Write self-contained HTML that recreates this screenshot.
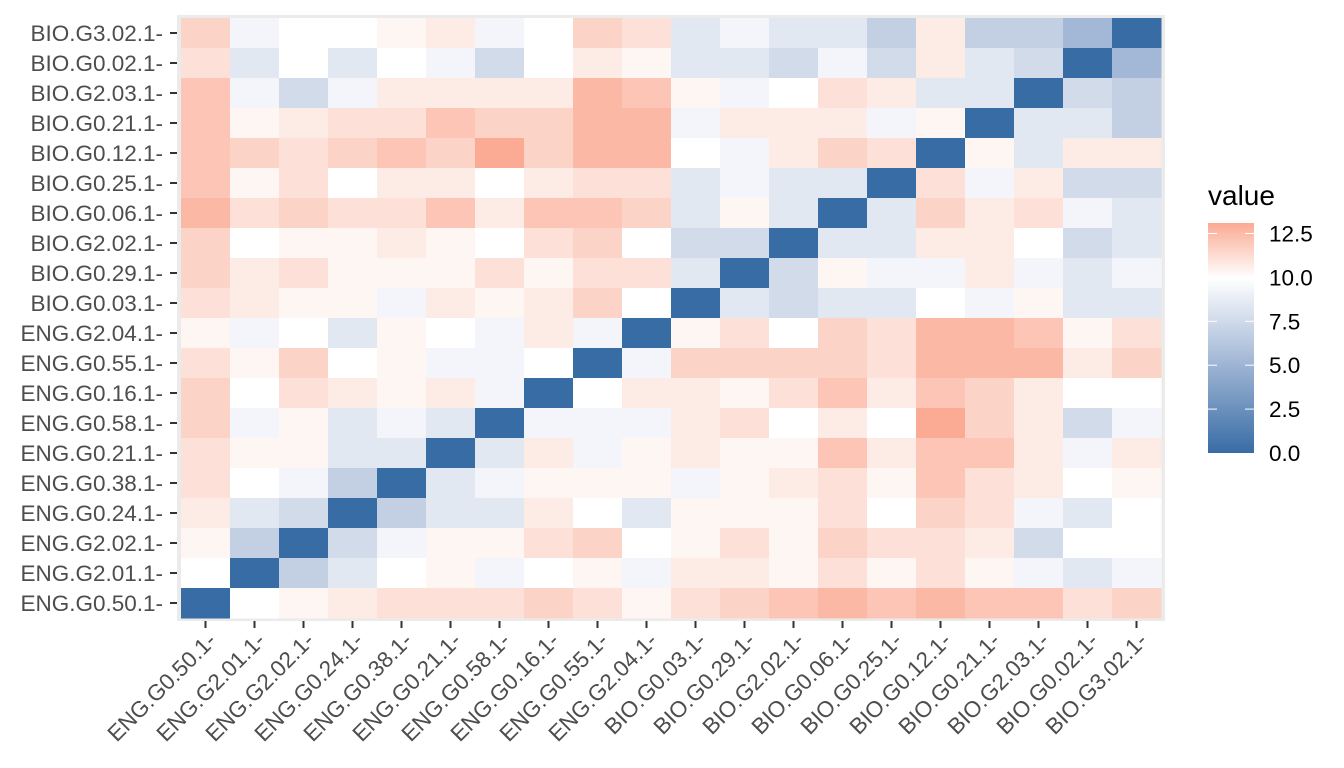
<!DOCTYPE html>
<html><head><meta charset="utf-8"><style>
html,body{margin:0;padding:0;background:#fff;}
svg{display:block;}
</style></head><body>
<svg id="s" width="1344" height="768" xmlns="http://www.w3.org/2000/svg" font-family="Liberation Sans, Arial, sans-serif">
<defs>
<linearGradient id="lg" x1="0" y1="1" x2="0" y2="0">
<stop offset="0" stop-color="#386CA5"/>
<stop offset="0.40" stop-color="#A3B8D6"/>
<stop offset="0.76" stop-color="#FFFFFF"/>
<stop offset="1" stop-color="#FBAA93"/>
</linearGradient>
</defs>
<rect x="177" y="15" width="988" height="606" fill="#EBEBEB"/>
<g id="cells"></g>
<g id="lab"></g>
<text x="1208" y="205" font-size="28" fill="#000">value</text>
<rect x="1208" y="223" width="46" height="230" fill="url(#lg)"/>
<g id="leg"></g>
</svg>
<script>
var P={a:"#FEF6F3",b:"#FDEBE5",c:"#FDE0D8",d:"#FCD3C7",e:"#FCC5B5",f:"#FBB8A4",g:"#FBAB94",
p:"#F3F5FA",q:"#E2E8F1",s:"#D1DBEA",t:"#C3D0E3",u:"#A3B8D6",D:"#386CA5",w:"#FFFFFF"};
var rows=[
"dpwwabpwdcqpqqtbttuD",
"cqwqwpswbaqqspsbqsDu",
"epspbbbbfeapwcbqqDst",
"eabcceddffpbbbpaDqqt",
"edcdedgdffwpbdcDaqbb",
"eacwbbwbccqpqqDcpbss",
"fcdccebeedqaqDqdbcpq",
"dwaabawcdwssDqqbbwsq",
"dbcaaacaccqDsappbpqp",
"cbaapbabdwDqsqqwpaqq",
"apwqawpbpDacwdcffeac",
"cadwappwDpddddcfffbd",
"dwcbabpDwbbacebedbww",
"dpaqpqDpppbcwbwgdbsp",
"caaqqDqbpabaaebeebpb",
"cwptDqpaaapabcaecbwa",
"bqsDtqqbwqaaacwdcpqw",
"atDspaacdwacadccbsww",
"wDtqwapwapbbacacapqp",
"Dwabcccdcacdefefeecd"];
var ylab=["BIO.G3.02.1","BIO.G0.02.1","BIO.G2.03.1","BIO.G0.21.1","BIO.G0.12.1","BIO.G0.25.1","BIO.G0.06.1","BIO.G2.02.1","BIO.G0.29.1","BIO.G0.03.1","ENG.G2.04.1","ENG.G0.55.1","ENG.G0.16.1","ENG.G0.58.1","ENG.G0.21.1","ENG.G0.38.1","ENG.G0.24.1","ENG.G2.02.1","ENG.G2.01.1","ENG.G0.50.1"];
var xlab=ylab.slice().reverse();
var h="";
for(var r=0;r<20;r++)for(var c=0;c<20;c++){
h+='<rect x="'+(181+49*c)+'" y="'+(18+30*r)+'" width="49.5" height="30.5" fill="'+P[rows[r][c]]+'"/>';}
document.getElementById("cells").innerHTML=h;
var l="";
for(var r=0;r<20;r++){var y=33+30*r;
l+='<text x="163" y="'+(y+8)+'" font-size="22.5" fill="#4D4D4D" text-anchor="end">'+ylab[r]+'-</text>';
l+='<line x1="170" x2="177" y1="'+y+'" y2="'+y+'" stroke="#333" stroke-width="2"/>';}
for(var c=0;c<20;c++){var x=205.5+49*c;
l+='<line x1="'+x+'" x2="'+x+'" y1="621" y2="628" stroke="#333" stroke-width="2"/>';
l+='<text transform="translate('+(x+12)+',642) rotate(-45)" font-size="22.5" fill="#4D4D4D" text-anchor="end">'+xlab[c]+'-</text>';}
document.getElementById("lab").innerHTML=l;
var g="",labs=["0.0","2.5","5.0","7.5","10.0","12.5"];
for(var i=0;i<6;i++){var y=453-43.9*i;
if(i>0){g+='<line x1="1208" x2="1217" y1="'+y+'" y2="'+y+'" stroke="#fff" stroke-width="1"/><line x1="1245" x2="1254" y1="'+y+'" y2="'+y+'" stroke="#fff" stroke-width="1"/>';}
g+='<text x="1269" y="'+(y+8)+'" font-size="22.5" fill="#000">'+labs[i]+'</text>';}
document.getElementById("leg").innerHTML=g;
</script>
</body></html>
